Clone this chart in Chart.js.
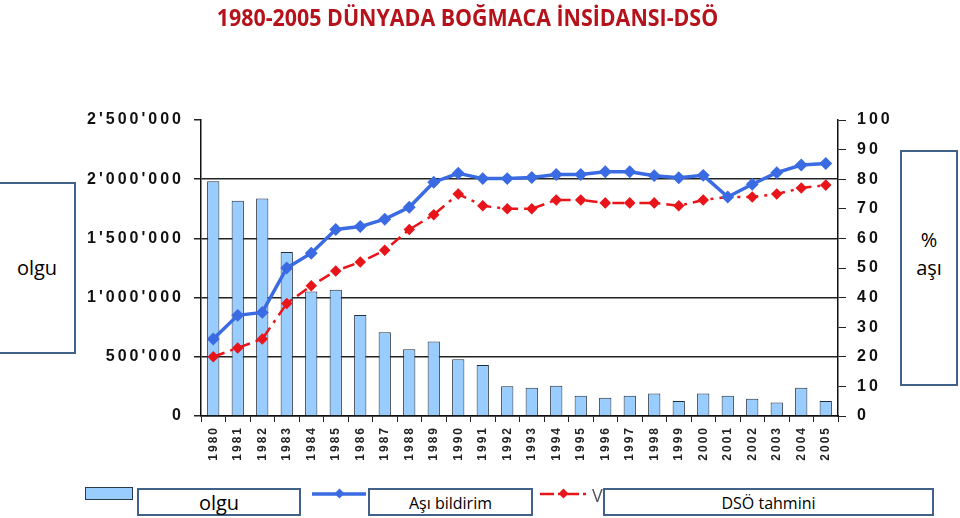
<!DOCTYPE html>
<html>
<head>
<meta charset="utf-8">
<script src="https://cdn.jsdelivr.net/npm/chart.js@4"></script>
<style>
  body { margin: 0; background: #fff; }
  #wrap { position: relative; width: 960px; height: 518px; overflow: hidden; font-family: "Open Sans", sans-serif; }
  canvas { position: absolute; left: 0; top: 0; }
  .title { position: absolute; left: 0; width: 935px; top: 1px; text-align: center; color: #b5121b; font-weight: bold; font-size: 23px; transform: scaleX(0.93); transform-origin: 467px 0; }
  .box { position: absolute; background: #fff; border: 2px solid #41608a; box-sizing: border-box; color: #000; text-align: center; font-family: "Open Sans", sans-serif; }
  .sw { position: absolute; }
</style>
</head>
<body>
<div id="wrap">
  <canvas id="myChart" width="960" height="518"></canvas>
  <div class="title">1980-2005 DÜNYADA BOĞMACA İNSİDANSI-DSÖ</div>

  <div class="box" style="left:-2px;top:182px;width:78px;height:172px;font-size:20px;line-height:168px;">olgu</div>
  <div class="box" style="left:900px;top:150px;width:58px;height:236px;font-size:20px;padding-top:74px;line-height:28px;">%<br>aşı</div>

  <!-- legend -->
  <div class="sw" style="left:85px;top:487px;width:48px;height:13px;background:#99ccff;border:1px solid #2b3a4a;box-sizing:border-box;"></div>
  <div class="box" style="left:137px;top:488px;width:164px;height:28px;font-size:20px;line-height:26px;">olgu</div>
  <svg class="sw" style="left:310px;top:486px" width="58" height="16">
    <line x1="2" y1="8" x2="56" y2="8" stroke="#3b6be3" stroke-width="3.5"/>
    <rect x="26" y="4" width="7" height="7" fill="#3b6be3" transform="rotate(45 29.5 7.5)"/>
  </svg>
  <div class="box" style="left:368px;top:488px;width:165px;height:28px;font-size:16px;line-height:26px;">Aşı bildirim</div>
  <svg class="sw" style="left:538px;top:486px" width="54" height="16">
    <line x1="2" y1="8" x2="52" y2="8" stroke="#e8151b" stroke-width="2.5" stroke-dasharray="14,4,3,4"/>
    <rect x="22" y="4" width="7" height="7" fill="#e8151b" transform="rotate(45 25.5 7.5)"/>
  </svg>
  <div style="position:absolute;left:592px;top:483px;font-size:18px;color:#555;font-family:'Open Sans',sans-serif;">V</div>
  <div class="box" style="left:603px;top:488px;width:331px;height:28px;font-size:16px;line-height:26px;">DSÖ tahmini</div>
</div>

<script>
// years
const years = ["1980","1981","1982","1983","1984","1985","1986","1987","1988","1989","1990","1991","1992",
  "1993","1994","1995","1996","1997","1998","1999","2000","2001","2002","2003","2004","2005"];

// reported pertussis cases (olgu)
const olgu = [1982000, 1818000, 1838000, 1385000, 1052000, 1066000, 853000, 707000, 563000, 630000, 479000, 431000, 252000,
  238000, 256000, 170000, 154000, 170000, 190000, 126000, 190000, 170000, 146000, 115000, 238000, 126000];

// reported vaccination coverage % (Aşı bildirim)
const asiBildirim = [26, 34, 35, 50, 55, 63, 64, 66.5, 70.5, 79, 82, 80.2, 80.2,
  80.6, 81.6, 81.6, 82.5, 82.5, 81.2, 80.5, 81.3, 74, 78.3, 82.2, 84.8, 85.3];

// WHO estimated coverage % (DSÖ tahmini)
const dsoTahmini = [20, 23, 26, 38, 44, 49, 52, 56, 63, 68, 75, 71, 70,
  70, 73, 73, 72, 72, 72, 71, 73, 74, 74, 75, 77, 78];

const leftTicks = [0, 500000, 1000000, 1500000, 2000000, 2500000];
const rightTicks = [0, 10, 20, 30, 40, 50, 60, 70, 80, 90, 100];

function fmt(v) {
  return String(v).replace(/\B(?=(\d{3})+(?!\d))/g, "'");
}

// letter spacing for the tick labels (the original is widely spaced)
const spacing = {
  id: 'spacing',
  beforeDraw(chart) {
    [['y', '3px'], ['y1', '3px'], ['x', '2px']].forEach(([id, ls]) => {
      const s = chart.scales[id];
      if (!s || s._lsPatched) return;
      const orig = s.drawLabels;
      s.drawLabels = function (area) {
        const ctx = this.ctx;
        ctx.save();
        ctx.letterSpacing = ls;
        orig.call(this, area);
        ctx.restore();
      };
      s._lsPatched = true;
    });
  }
};

const tickFont = { family: "'Liberation Sans', Arial, sans-serif", weight: 'bold', size: 16 };

new Chart("myChart", {
  type: 'bar',
  data: {
    labels: years,
    datasets: [
      {
        type: 'line',
        label: 'Aşı bildirim',
        data: asiBildirim,
        yAxisID: 'y1',
        borderColor: '#3b6be3',
        backgroundColor: '#3b6be3',
        borderWidth: 3.5,
        pointStyle: 'rectRot',
        pointRadius: 4,
        tension: 0,
        order: 0
      },
      {
        type: 'line',
        label: 'DSÖ tahmini',
        data: dsoTahmini,
        yAxisID: 'y1',
        borderColor: '#e8151b',
        backgroundColor: '#e8151b',
        borderWidth: 2.5,
        borderDash: [12, 6, 3, 6],
        pointStyle: 'rectRot',
        pointRadius: 4,
        tension: 0,
        order: 1
      },
      {
        label: 'olgu',
        data: olgu,
        yAxisID: 'y',
        backgroundColor: '#99ccff',
        borderColor: '#1f2d3d',
        borderWidth: 1,
        barPercentage: 0.5,
        categoryPercentage: 1,
        order: 2
      }
    ]
  },
  options: {
    responsive: false,
    animation: false,
    layout: { padding: { top: 120, left: 0, right: 0, bottom: 0 } },
    plugins: {
      legend: { display: false },
      tooltip: { enabled: false }
    },
    scales: {
      x: {
        grid: { display: true, drawOnChartArea: false, offset: true, color: '#222', tickLength: 6 },
        border: { display: true, color: '#111', width: 1.5 },
        ticks: {
          color: '#222',
          font: { family: "'Liberation Sans', Arial, sans-serif", weight: 'bold', size: 12 },
          maxRotation: 90, minRotation: 90, autoSkip: false, padding: 4
        },
        afterFit(scale) { scale.height = 102; }
      },
      y: {
        position: 'left',
        min: 0, max: 2500000,
        afterBuildTicks(scale) { scale.ticks = leftTicks.map(v => ({ value: v })); },
        grid: {
          color: ctx => (ctx.tick && ctx.tick.value === 2500000) ? 'rgba(0,0,0,0)' : '#222',
          lineWidth: 1.5,
          tickLength: 7,
          tickColor: '#222'
        },
        border: { display: true, color: '#111', width: 1.5 },
        ticks: { color: '#111', font: tickFont, padding: 10, callback: v => fmt(v) },
        afterFit(scale) { scale.width = 201; }
      },
      y1: {
        position: 'right',
        min: 0, max: 100,
        afterBuildTicks(scale) { scale.ticks = rightTicks.map(v => ({ value: v })); },
        grid: { drawOnChartArea: false, tickLength: 8, color: '#222' },
        border: { display: true, color: '#111', width: 1.5 },
        ticks: { color: '#111', font: tickFont, padding: 11 },
        afterFit(scale) { scale.width = 122; }
      }
    }
  },
  plugins: [spacing]
});
</script>
</body>
</html>
